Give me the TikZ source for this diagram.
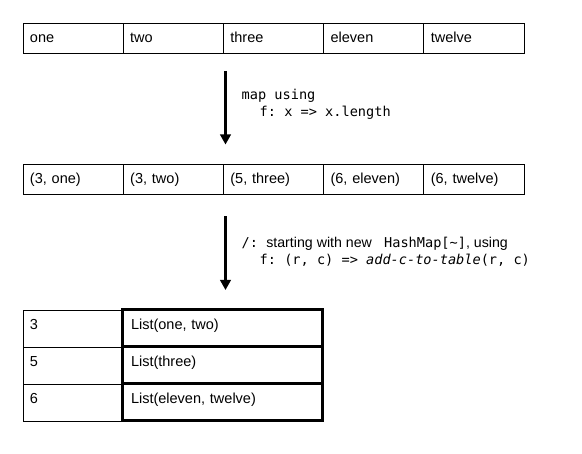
\documentclass[tikz,border=0pt]{standalone}
\usepackage{fontspec}
\setmainfont{Liberation Sans}
\setmonofont{DejaVu Sans Mono}
\usetikzlibrary{arrows.meta}
\begin{document}
\begin{tikzpicture}[x=1pt,y=-1pt,
  cell/.style={draw, line width=0.9pt, anchor=north west, outer sep=0pt, inner xsep=7pt, inner ysep=0pt,
    align=left, font=\fontsize{14.5}{17}\selectfont},
  rowcell/.style={cell, text width=86.2pt, text height=20pt, text depth=10pt},
  keycell/.style={cell, text width=85pt, text height=20pt, text depth=17pt},
  valcell/.style={cell, line width=3pt, inner xsep=9pt, text width=182pt, text height=20pt, text depth=17pt},
  mono/.style={anchor=base west, inner sep=0pt, font=\ttfamily\fontsize{13.6}{16}\selectfont},
  flow/.style={line width=2.3pt, -{Triangle[length=10pt,width=10.5pt]}}]
\useasboundingbox (0,0) rectangle (582,454);

% first row
\node[rowcell] (a1) at (23,23) {one};
\node[rowcell] (a2) at (123.2,23) {two};
\node[rowcell] (a3) at (223.4,23) {three};
\node[rowcell] (a4) at (323.6,23) {eleven};
\node[rowcell] (a5) at (423.8,23) {twelve};

% arrow 1
\coordinate (s1) at (225.5,71);
\coordinate (e1) at (225.5,144.5);
\draw[flow] (s1) -- (e1);
\node[mono] (t1a) at (241.5,100) {map using};
\node[mono] (t1b) at (259.5,117) {f: x => x.length};

% second row
\node[rowcell] (b1) at (23,164) {(3, one)};
\node[rowcell] (b2) at (123.2,164) {(3, two)};
\node[rowcell] (b3) at (223.4,164) {(5, three)};
\node[rowcell] (b4) at (323.6,164) {(6, eleven)};
\node[rowcell] (b5) at (423.8,164) {(6, twelve)};

% arrow 2
\coordinate (s2) at (225.5,216.5);
\coordinate (e2) at (225.5,290);
\draw[flow] (s2) -- (e2);
\node[mono] (t2a) at (241.5,247.5) {/:\ {\rmfamily\fontsize{14.2}{17}\selectfont starting with new\ }\ HashMap[\string~]{\rmfamily\fontsize{14.2}{17}\selectfont , using}};
\node[mono] (t2b) at (259.5,265) {f: (r, c) => \textit{add-c-to-table}(r, c)};

% result table
\node[keycell] (k1) at (23,310) {3};
\node[keycell] (k2) at (23,347) {5};
\node[keycell] (k3) at (23,384) {6};
\node[valcell] (v1) at (122,310) {List(one, two)};
\node[valcell] (v2) at (122,347) {List(three)};
\node[valcell] (v3) at (122,384) {List(eleven, twelve)};
\end{tikzpicture}
\end{document}
